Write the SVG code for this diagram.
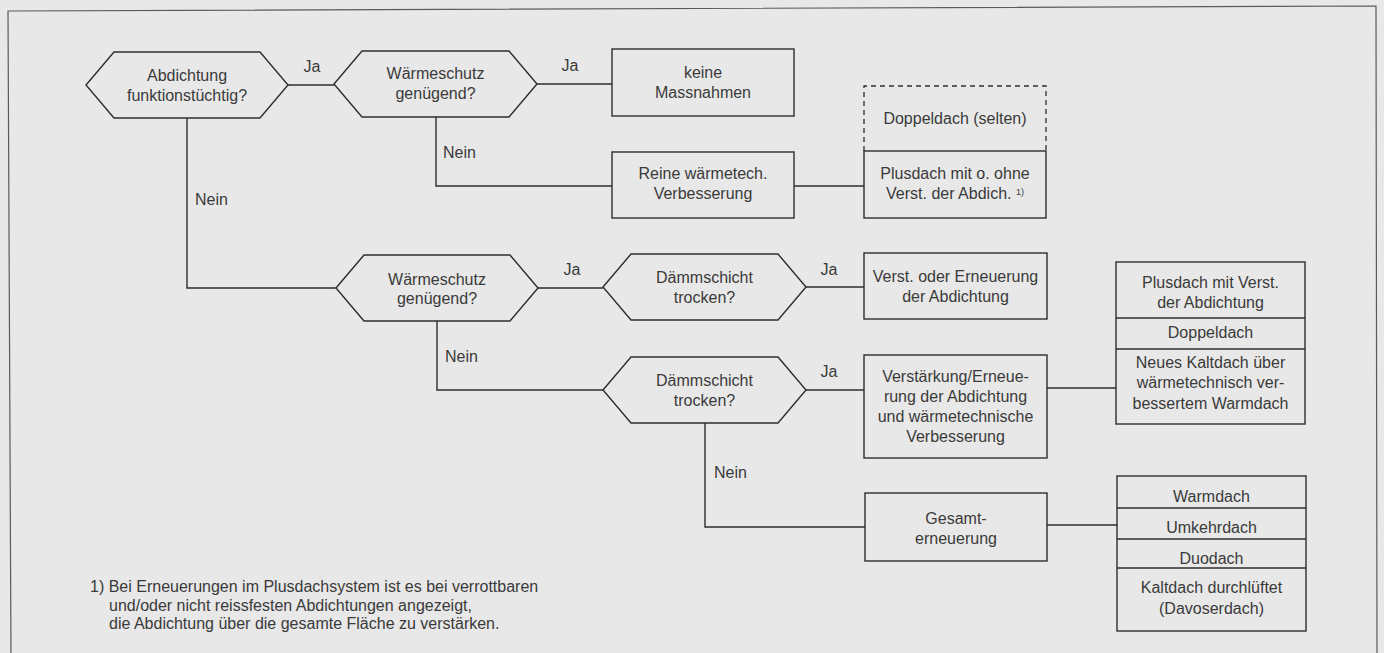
<svg xmlns="http://www.w3.org/2000/svg" width="1384" height="653" viewBox="0 0 1384 653">
<style>
.bg{fill:#e8e8e8}
.frame{fill:none;stroke:#5a5a5a;stroke-width:1.2}
.shape{fill:#e8e8e8;stroke:#2e2e2e;stroke-width:1.4}
.line{fill:none;stroke:#2e2e2e;stroke-width:1.4}
.dash{fill:none;stroke:#2e2e2e;stroke-width:1.3;stroke-dasharray:5 4}
text{font-family:"Liberation Sans",Arial,sans-serif;font-size:16px;fill:#3a3a3a}
.c{text-anchor:middle}
.fn{font-size:16px}
</style>
<rect class="bg" x="0" y="0" width="1384" height="653"/>
<path class="frame" d="M11 660L8 11L1376 6L1377 660"/>

<g id="connectors">
<path class="line" d="M288 85H334"/>
<path class="line" d="M537 84H612"/>
<path class="line" d="M436 117V186H612"/>
<path class="line" d="M794 186H864"/>
<path class="line" d="M187 118V288H336"/>
<path class="line" d="M538 288H603"/>
<path class="line" d="M806 287H864"/>
<path class="line" d="M437 321V390H603"/>
<path class="line" d="M806 390H864"/>
<path class="line" d="M1047 388H1116"/>
<path class="line" d="M705 423V527H865"/>
<path class="line" d="M1047 525H1117"/>
<text x="312" y="72" class="c">Ja</text>
<text x="570" y="71" class="c">Ja</text>
<text x="443" y="158">Nein</text>
<text x="195" y="205">Nein</text>
<text x="572" y="275" class="c">Ja</text>
<text x="829" y="275" class="c">Ja</text>
<text x="445" y="362">Nein</text>
<text x="829" y="377" class="c">Ja</text>
<text x="714" y="478">Nein</text>
</g>

<g id="q-abdichtung">
<polygon class="shape" points="86,85 114,52 260,52 288,85 260,118 114,118"/>
<text x="187" y="81" class="c">Abdichtung</text>
<text x="187" y="101" class="c">funktionstüchtig?</text>
</g>

<g id="q-waermeschutz-1">
<polygon class="shape" points="334,84 362,51 509,51 537,84 509,117 362,117"/>
<text x="435.5" y="79" class="c">Wärmeschutz</text>
<text x="435.5" y="99" class="c">genügend?</text>
</g>

<g id="keine-massnahmen">
<rect class="shape" x="612" y="49" width="182" height="67"/>
<text x="703" y="77.5" class="c">keine</text>
<text x="703" y="97.5" class="c">Massnahmen</text>
</g>

<g id="reine-waermetech">
<rect class="shape" x="612" y="152" width="182" height="66"/>
<text x="703" y="178.5" class="c">Reine wärmetech.</text>
<text x="703" y="198.5" class="c">Verbesserung</text>
</g>

<g id="doppeldach-selten">
<path class="dash" d="M864 151V86H1046V151"/>
<text x="955" y="123.5" class="c">Doppeldach (selten)</text>
</g>

<g id="plusdach-1">
<rect class="shape" x="864" y="151" width="182" height="67"/>
<text x="955" y="178.5" class="c">Plusdach mit o. ohne</text>
<text x="955" y="198.5" class="c">Verst. der Abdich. <tspan font-size="9" dy="-4">1)</tspan></text>
</g>

<g id="q-waermeschutz-2">
<polygon class="shape" points="336,288 364,255 510,255 538,288 510,321 364,321"/>
<text x="437" y="284.5" class="c">Wärmeschutz</text>
<text x="437" y="304" class="c">genügend?</text>
</g>

<g id="q-daemmschicht-1">
<polygon class="shape" points="603,287 631,254 778,254 806,287 778,320 631,320"/>
<text x="704.5" y="283" class="c">Dämmschicht</text>
<text x="704.5" y="303" class="c">trocken?</text>
</g>

<g id="verst-erneuerung">
<rect class="shape" x="864" y="253" width="183" height="66"/>
<text x="955.5" y="281.5" class="c">Verst. oder Erneuerung</text>
<text x="955.5" y="301.5" class="c">der Abdichtung</text>
</g>

<g id="q-daemmschicht-2">
<polygon class="shape" points="603,390 631,357 778,357 806,390 778,423 631,423"/>
<text x="704.5" y="386" class="c">Dämmschicht</text>
<text x="704.5" y="406" class="c">trocken?</text>
</g>

<g id="verstaerkung">
<rect class="shape" x="864" y="355" width="183" height="103"/>
<text x="955.5" y="381.5" class="c">Verstärkung/Erneue-</text>
<text x="955.5" y="401.5" class="c">rung der Abdichtung</text>
<text x="955.5" y="421.5" class="c">und wärmetechnische</text>
<text x="955.5" y="441.5" class="c">Verbesserung</text>
</g>

<g id="stack-1">
<rect class="shape" x="1116" y="262" width="189" height="162"/>
<path class="line" d="M1116 318H1305M1116 349H1305"/>
<text x="1210.5" y="287.5" class="c">Plusdach mit Verst.</text>
<text x="1210.5" y="307.5" class="c">der Abdichtung</text>
<text x="1210.5" y="337.5" class="c">Doppeldach</text>
<text x="1210.5" y="367.5" class="c">Neues Kaltdach über</text>
<text x="1210.5" y="387.5" class="c">wärmetechnisch ver-</text>
<text x="1210.5" y="408.5" class="c">bessertem Warmdach</text>
</g>

<g id="gesamterneuerung">
<rect class="shape" x="865" y="493" width="182" height="68"/>
<text x="956" y="523.5" class="c">Gesamt-</text>
<text x="956" y="543.5" class="c">erneuerung</text>
</g>

<g id="stack-2">
<rect class="shape" x="1117" y="476" width="189" height="155"/>
<path class="line" d="M1117 508H1306M1117 539H1306M1117 568H1306"/>
<text x="1211.5" y="501.5" class="c">Warmdach</text>
<text x="1211.5" y="532.5" class="c">Umkehrdach</text>
<text x="1211.5" y="563.5" class="c">Duodach</text>
<text x="1211.5" y="592.5" class="c">Kaltdach durchlüftet</text>
<text x="1211.5" y="613.5" class="c">(Davoserdach)</text>
</g>

<g id="footnote">
<text class="fn" x="90" y="592">1) Bei Erneuerungen im Plusdachsystem ist es bei verrottbaren</text>
<text class="fn" x="109" y="611">und/oder nicht reissfesten Abdichtungen angezeigt,</text>
<text class="fn" x="109" y="629">die Abdichtung über die gesamte Fläche zu verstärken.</text>
</g>
</svg>
